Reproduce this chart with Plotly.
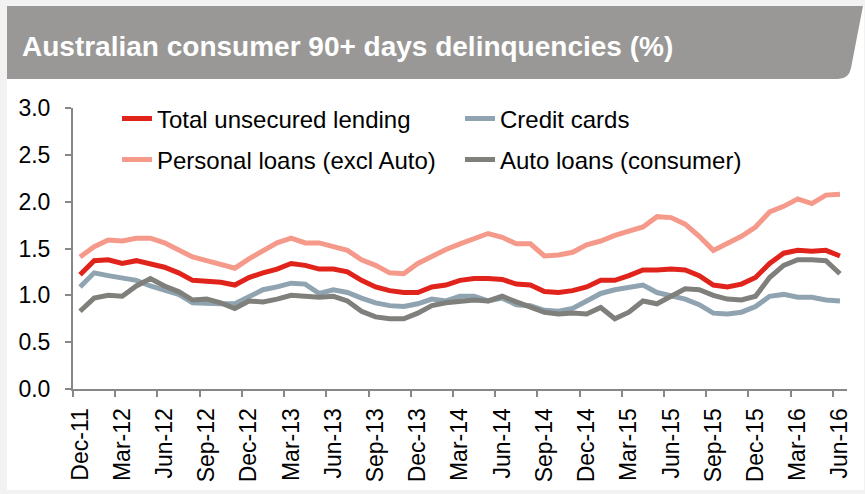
import plotly.graph_objects as go

months = ["Dec-11", "Jan-12", "Feb-12", "Mar-12", "Apr-12", "May-12", "Jun-12", "Jul-12", "Aug-12", "Sep-12",
          "Oct-12", "Nov-12", "Dec-12", "Jan-13", "Feb-13", "Mar-13", "Apr-13", "May-13", "Jun-13", "Jul-13",
          "Aug-13", "Sep-13", "Oct-13", "Nov-13", "Dec-13", "Jan-14", "Feb-14", "Mar-14", "Apr-14", "May-14",
          "Jun-14", "Jul-14", "Aug-14", "Sep-14", "Oct-14", "Nov-14", "Dec-14", "Jan-15", "Feb-15", "Mar-15",
          "Apr-15", "May-15", "Jun-15", "Jul-15", "Aug-15", "Sep-15", "Oct-15", "Nov-15", "Dec-15", "Jan-16",
          "Feb-16", "Mar-16", "Apr-16", "May-16", "Jun-16"]

total_unsecured = [1.22, 1.37, 1.38, 1.34, 1.37, 1.34, 1.30, 1.24, 1.16, 1.15, 1.14, 1.11, 1.19, 1.24, 1.28,
                   1.34, 1.32, 1.28, 1.28, 1.25, 1.16, 1.09, 1.05, 1.03, 1.03, 1.09, 1.11, 1.16, 1.18, 1.18,
                   1.17, 1.12, 1.11, 1.04, 1.03, 1.05, 1.09, 1.16, 1.16, 1.21, 1.27, 1.27, 1.28, 1.27, 1.21,
                   1.11, 1.09, 1.12, 1.19, 1.34, 1.45, 1.48, 1.47, 1.48, 1.42]
personal_loans = [1.41, 1.52, 1.59, 1.58, 1.61, 1.61, 1.56, 1.48, 1.41, 1.37, 1.33, 1.29, 1.39, 1.48, 1.56,
                  1.61, 1.56, 1.56, 1.52, 1.48, 1.38, 1.32, 1.24, 1.23, 1.34, 1.42, 1.49, 1.55, 1.61, 1.66,
                  1.62, 1.55, 1.55, 1.42, 1.43, 1.46, 1.54, 1.58, 1.64, 1.69, 1.73, 1.84, 1.83, 1.76, 1.63,
                  1.48, 1.55, 1.63, 1.73, 1.89, 1.95, 2.03, 1.98, 2.07, 2.08]
credit_cards = [1.09, 1.24, 1.21, 1.18, 1.16, 1.10, 1.05, 1.01, 0.92, 0.91, 0.91, 0.91, 0.99, 1.06, 1.09,
                1.13, 1.12, 1.02, 1.06, 1.03, 0.97, 0.92, 0.89, 0.88, 0.91, 0.96, 0.94, 0.99, 0.99, 0.94,
                0.97, 0.90, 0.89, 0.84, 0.83, 0.86, 0.94, 1.02, 1.06, 1.08, 1.11, 1.03, 1.00, 0.96, 0.90,
                0.81, 0.80, 0.82, 0.88, 0.99, 1.01, 0.98, 0.98, 0.95, 0.94]
auto_loans = [0.83, 0.97, 1.00, 0.99, 1.10, 1.18, 1.10, 1.04, 0.95, 0.96, 0.92, 0.86, 0.94, 0.93, 0.96,
              1.00, 0.99, 0.98, 0.99, 0.94, 0.83, 0.77, 0.75, 0.75, 0.81, 0.89, 0.92, 0.93, 0.95, 0.94,
              0.99, 0.93, 0.87, 0.82, 0.80, 0.81, 0.80, 0.87, 0.75, 0.82, 0.94, 0.91, 0.99, 1.07, 1.06,
              1.00, 0.96, 0.95, 0.99, 1.19, 1.32, 1.38, 1.38, 1.37, 1.23]

x = list(range(len(months)))
tick_pos = x[::3]
tick_text = months[::3]

W, H = 865, 494
L, R, T, B = 73, 847, 108, 389


# pixel -> paper coords (for the decorations only)
def px(v):
    return (v - L) / (R - L)


def py(v):
    return (B - v) / (B - T)


FONT = "Liberation Sans, Arial, sans-serif"

fig = go.Figure()

series = [
    ("Personal loans (excl Auto)", personal_loans, "#f5998a", "legend2", 1),
    ("Credit cards", credit_cards, "#8fa4b0", "legend", 2),
    ("Auto loans (consumer)", auto_loans, "#7f807b", "legend2", 2),
    ("Total unsecured lending", total_unsecured, "#e0241c", "legend", 1),
]
for name, vals, col, leg, rank in series:
    fig.add_trace(go.Scatter(x=x, y=vals, mode="lines", name=name, legend=leg, legendrank=rank,
                             line=dict(color=col, width=5)))

leg_common = dict(orientation="h", xanchor="left", yanchor="middle", x=px(117),
                  entrywidth=298, entrywidthmode="pixels", font=dict(family=FONT, size=24, color="#000"),
                  bgcolor="rgba(0,0,0,0)", itemwidth=30, traceorder="normal")

# card + title banner
banner = (f"M {px(7)},{py(6)} L {px(863)},{py(6)} L {px(851)},{py(68)} "
          f"Q {px(849)},{py(79)} {px(838)},{py(79)} L {px(7)},{py(79)} Z")

fig.update_layout(
    width=W, height=H,
    margin=dict(l=L, r=W - R, t=T, b=H - B, autoexpand=False),
    paper_bgcolor="#f2f2f2", plot_bgcolor="rgba(0,0,0,0)",
    font=dict(family=FONT, size=23, color="#000"),
    legend=dict(y=py(119), **leg_common),
    legend2=dict(y=py(160), **leg_common),
    shapes=[
        dict(type="rect", xref="paper", yref="paper", x0=px(7), x1=px(864), y0=py(6), y1=py(490),
             fillcolor="white", line=dict(width=0), layer="below"),
        dict(type="path", xref="paper", yref="paper", path=banner,
             fillcolor="#999896", line=dict(width=0), layer="below"),
    ],
    annotations=[
        dict(text="<b>Australian consumer 90+ days delinquencies (%)</b>", xref="paper", yref="paper",
             x=px(20), y=py(46), xanchor="left", yanchor="middle", showarrow=False,
             font=dict(family=FONT, size=28, color="white")),
    ],
    xaxis=dict(range=[-0.5, len(months) - 0.5], tickmode="array", tickvals=tick_pos, ticktext=tick_text,
               tickangle=-90, ticks="", showgrid=False, zeroline=False,
               showline=True, linecolor="#878787", linewidth=2,
               minor=dict(ticks="outside", tick0=-0.5, dtick=3, ticklen=6, tickwidth=2,
                          tickcolor="#878787", showgrid=False),
               ticklabelstandoff=8,
               tickfont=dict(family=FONT, size=23, color="#000")),
    yaxis=dict(range=[0, 3], tickmode="linear", tick0=0, dtick=0.5, tickformat=".1f",
               ticks="outside", ticklen=6, tickwidth=2, tickcolor="#878787",
               showgrid=False, zeroline=False, showline=True, linecolor="#878787", linewidth=2,
               ticklabelstandoff=10,
               tickfont=dict(family=FONT, size=23, color="#000")),
)

fig.write_html("out.html", config={"displayModeBar": False},
               post_script="document.body.style.margin='0';document.body.style.background='#f2f2f2';")
